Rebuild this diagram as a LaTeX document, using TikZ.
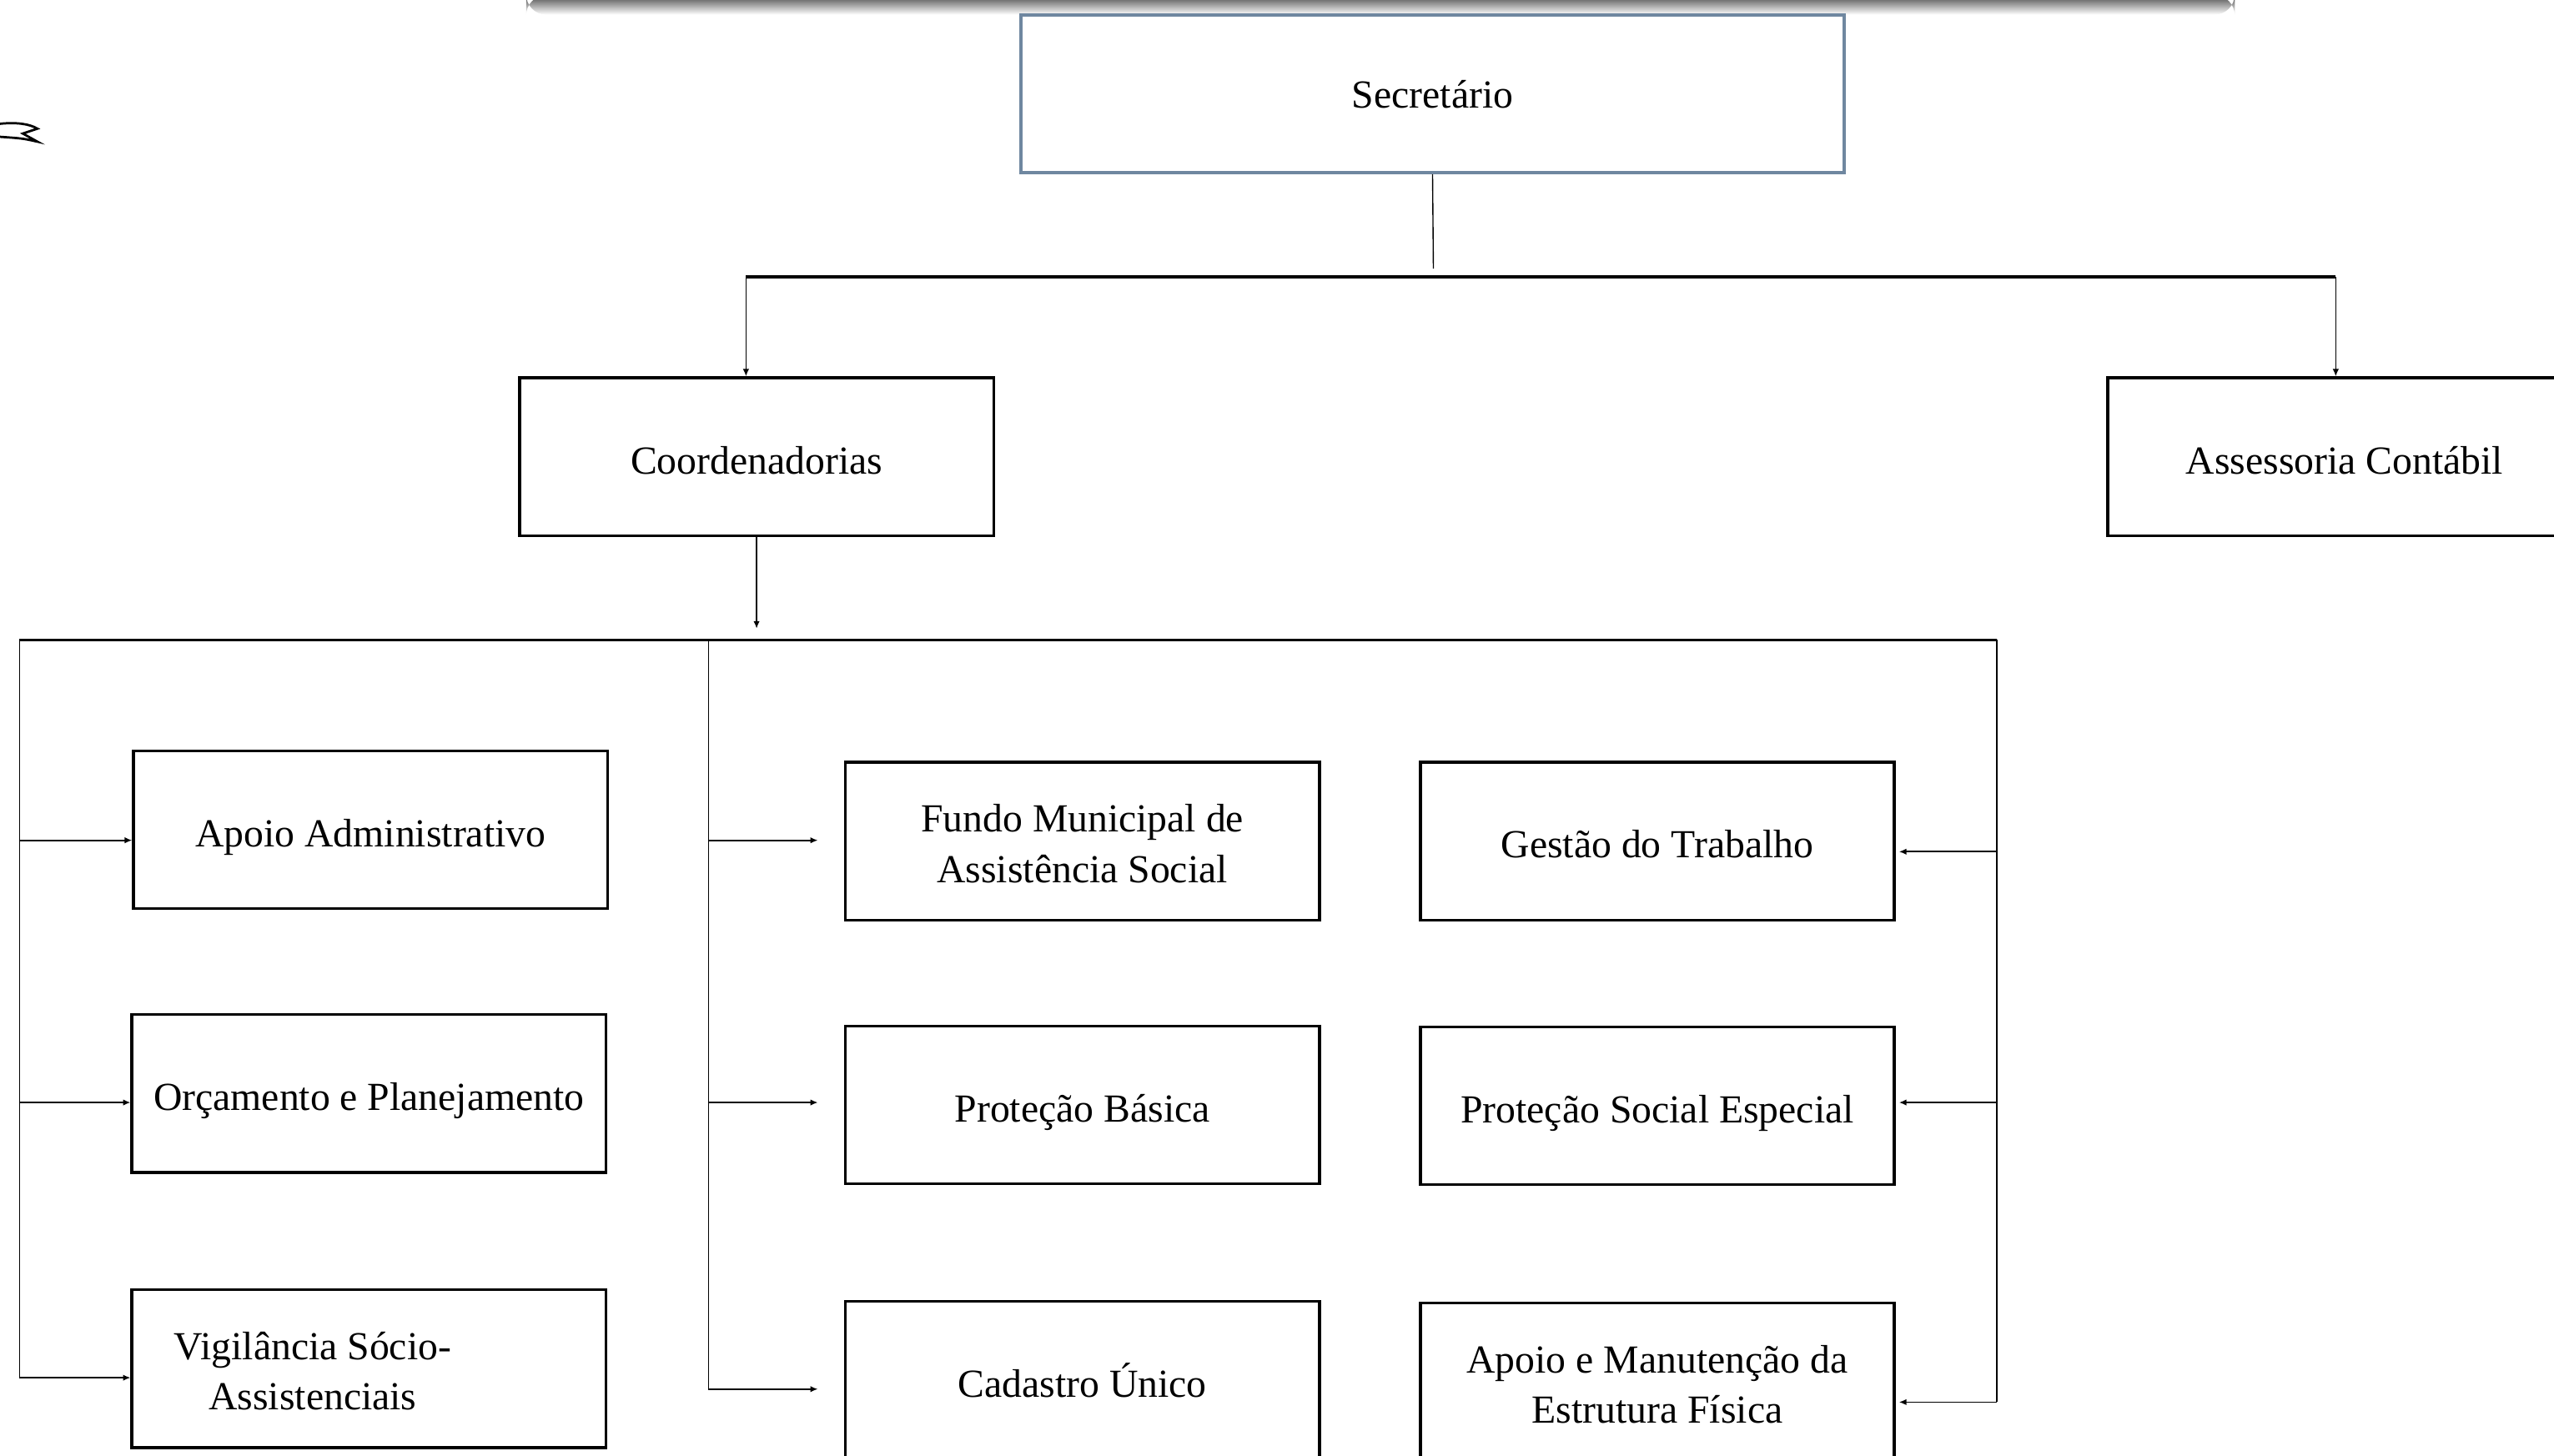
\documentclass[tikz,border=0pt]{standalone}
\usepackage{fontspec}
\setmainfont{Liberation Serif}
\usetikzlibrary{arrows.meta}

\definecolor{secblue}{HTML}{6F87A0}

\tikzstyle{unit-font}=[align=center, font=\fontsize{13.9}{17.6}\selectfont]
\tikzstyle{unit}=[rectangle, draw, line width=1pt, minimum width=58.2mm,
                  minimum height=19.4mm, inner sep=0pt, unit-font,
                  text height=12.5pt, text depth=0.7pt]
\tikzstyle{top-unit}=[unit, draw=secblue, line width=1.2pt, minimum width=101mm,
                      text height=10pt, text depth=0pt]
\tikzstyle{link} = [draw, line width=0.4pt]
\tikzstyle{bus} = [draw, line width=1pt]
\tikzstyle{frame} = [draw, line width=0.6pt]
\tikzstyle{arrow-link} = [draw, line width=0.5pt, -{Latex[length=2.6pt,width=2.2pt]}]

\begin{document}
\begin{tikzpicture}[x=0.2mm, y=-0.2mm]
    \useasboundingbox (0,0) rectangle (1568,894);
    % shadow of the banner above and the mark at the left border
    \shade[top color=black!72, bottom color=white, rounded corners=2.5mm]
        (323,-3) rectangle (1372,9);
    \draw[line width=0.8pt] (0,76) .. controls (10,75) and (18,76) .. (23,79)
        -- (14,82) -- (23,87) .. controls (14,85) .. (0,84);
    % First we draw the units
    \node[top-unit] (sec) at (879.5,57.5) {Secretário};
    \foreach \pos/\name/\txt in {{(464.5,280.5)/coord/Coordenadorias},
        {(1439.5,280.5)/ass/Assessoria Contábil},
        {(227.5,509.5)/adm/Apoio Administrativo},
        {(226.5,671.5)/orc/Orçamento e Planejamento},
        {(664.5,678.5)/basica/Proteção Básica},
        {(664.5,847.5)/cad/Cadastro Único},
        {(1017.5,516.5)/gestao/Gestão do Trabalho},
        {(1017.5,679)/especial/Proteção Social Especial}}
      \node[unit] (\name) at \pos {\txt};
    % units with two lines of text
    \foreach \pos/\name/\dx/\txt in {
        {(664.5,516.5)/fundo/0mm/Fundo Municipal de\\Assistência Social},
        {(1017.5,848.5)/manut/0mm/Apoio e Manutenção da\\Estrutura Física},
        {(226.5,840.5)/vig/-6.9mm/Vigilância Sócio-\\Assistenciais}}
      \node[unit, label={[xshift=\dx, yshift=-0.3mm, unit-font]center:\txt}]
          (\name) at \pos {};
    % Secretário down to the two branches
    \coordinate (stem) at (880,165);
    \coordinate (busl) at (458,170);
    \coordinate (busr) at (1434,170);
    \path[link] (sec.south) -- (stem);
    \path[bus] (busl) -- (busr);
    \path[arrow-link] (busl) -- (busl |- coord.north);
    \path[arrow-link] (busr) -- (busr |- ass.north);
    % Coordenadorias down to the frame of the units
    \coordinate (drop) at (465,386);
    \coordinate (fl) at (12,393);
    \coordinate (fm) at (435,393);
    \coordinate (fr) at (1226,393);
    \path[arrow-link] (coord.south) -- (coord.south |- drop);
    \path[frame] (fl) -- (fr);
    \path[link] (fl) -- (fl |- 0,846);
    \path[link] (fm) -- (fm |- 0,853);
    \path[link] (fr) -- (fr |- 0,861);
    \foreach \name/\y in {adm/516, orc/677, vig/846}
      \path[arrow-link] (fl |- 0,\y) -- (\name.west |- 0,\y);
    \foreach \name/\y in {fundo/516, basica/677, cad/853}
      \path[arrow-link] (fm |- 0,\y) -- ([xshift=-3.2mm]\name.west |- 0,\y);
    \foreach \name/\y in {gestao/523, especial/677, manut/861}
      \path[arrow-link] (fr |- 0,\y) -- ([xshift=0.4mm]\name.east |- 0,\y);
\end{tikzpicture}
\end{document}
